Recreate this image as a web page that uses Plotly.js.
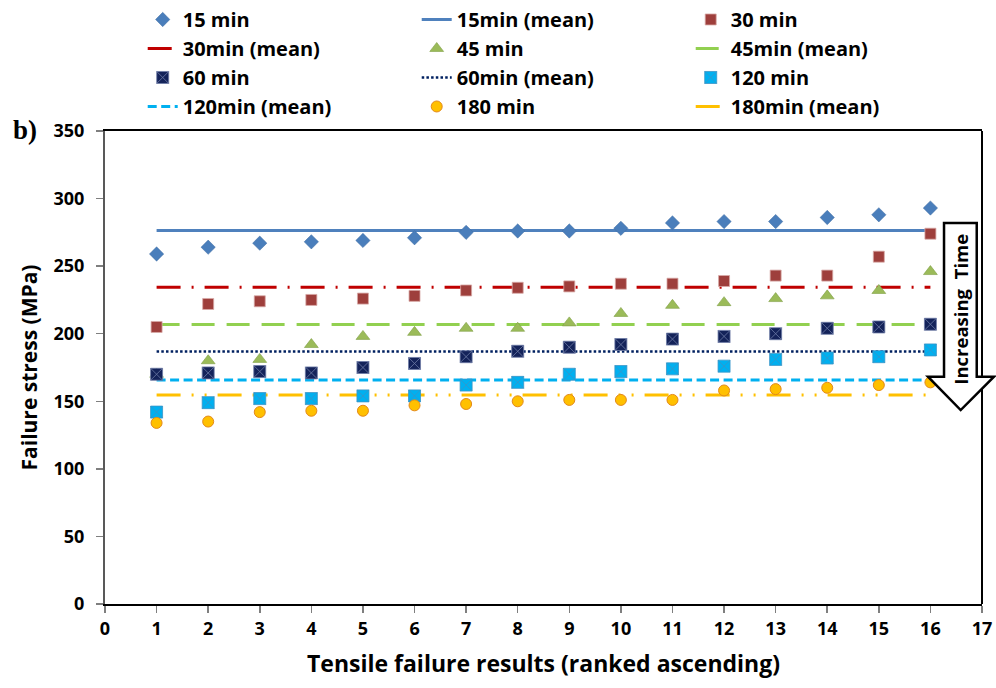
<!DOCTYPE html>
<html>
<head>
<meta charset="utf-8">
<script src="https://cdn.plot.ly/plotly-3.0.1.min.js"></script>
<style>html,body{margin:0;padding:0;background:#fff;}#chart{width:996px;height:688px;}</style>
</head>
<body>
<div id="chart"></div>
<script>
// Rank positions (x axis)
const ranks = [1,2,3,4,5,6,7,8,9,10,11,12,13,14,15,16];
// Failure stress (MPa) for each soak time, ranked ascending
const stress15  = [259,264,267,268,269,271,275,276,276,278,282,283,283,286,288,293];
const stress30  = [205,222,224,225,226,228,232,234,235,237,237,239,243,243,257,274];
const stress45  = [170,180,181,192,198,201,204,204,208,215,221,223,226,228,232,246];
const stress60  = [170,171,172,171,175,178,183,187,190,192,196,198,200,204,205,207];
const stress120 = [142,149,152,152,154,154,162,164,170,172,174,176,181,182,183,188];
const stress180 = [134,135,142,143,143,147,148,150,151,151,151,158,159,160,162,164];
// Mean lines (MPa)
const means = [276.3, 234.4, 206.8, 186.8, 165.8, 154.7];
const seriesNames = ['15 min','30 min','45 min','60 min','120 min','180 min'];
const meanNames = ['15min (mean)','30min (mean)','45min (mean)','60min (mean)','120min (mean)','180min (mean)'];
const xTickVals = [0,1,2,3,4,5,6,7,8,9,10,11,12,13,14,15,16,17];
const yTickVals = [0,50,100,150,200,250,300,350];
const xTitle = 'Tensile failure results (ranked ascending)';
const yTitle = 'Failure stress (MPa)';
const panelLabel = 'b)';
const arrowLabel = 'Increasing  Time';

const FONT = 'Open Sans, Noto Sans, sans-serif';
const allStress = [stress15, stress30, stress45, stress60, stress120, stress180];
const markerStyles = [
  {symbol:'diamond', size:11, color:'#4A7EBB', line:{color:'#3C6AA0', width:0.5}},
  {symbol:'square', size:11, color:'#9E3F3C', line:{color:'#D8A9A7', width:0.8}},
  {symbol:'triangle-up', size:12, color:'#9BBB59', line:{color:'#7E9E43', width:0.6}},
  {symbol:'square-x', size:12, color:'#14235A', line:{color:'#6D7BA6', width:0.8}},
  {symbol:'square-x', size:12, color:'#00B0F0', line:{color:'#3A94C6', width:0.8}},
  {symbol:'circle', size:11, color:'#FFC000', line:{color:'#E3891A', width:1}}
];
const lineStyles = [
  {color:'#4F81BD', width:3, dash:'solid'},
  {color:'#C00000', width:3, dash:'24px,11px,2px,11px'},
  {color:'#92D050', width:3, dash:'23px,12px'},
  {color:'#002060', width:2.5, dash:'2.5px,2.2px'},
  {color:'#00B0F0', width:3, dash:'9px,4.5px'},
  {color:'#FFC000', width:3, dash:'24px,11px,2px,11px,2px,11px'}
];

const traces = [];
// mean lines first (drawn beneath markers)
means.forEach((m, i) => {
  traces.push({
    type:'scatter', mode:'lines', name: meanNames[i],
    x:[ranks[0], ranks[ranks.length-1]], y:[m, m],
    line: lineStyles[i], legendrank: 2*i + 2, hoverinfo:'skip'
  });
});
allStress.forEach((arr, i) => {
  traces.push({
    type:'scatter', mode:'markers', name: seriesNames[i],
    x: ranks, y: arr, marker: markerStyles[i], legendrank: 2*i + 1, cliponaxis:false
  });
});

const layout = {
  width:996, height:688,
  margin:{l:105, r:14, t:131, b:84, pad:0, autoexpand:false},
  paper_bgcolor:'#ffffff', plot_bgcolor:'#ffffff',
  font:{family:FONT, color:'#000000'},
  showlegend:true,
  legend:{
    orientation:'h', x:0.043, xanchor:'left', y:1.277, yanchor:'top',
    entrywidth:229, traceorder:'normal',
    font:{family:FONT, size:20, weight:'bold', color:'#000000'},
    bgcolor:'rgba(0,0,0,0)'
  },
  xaxis:{
    range:[0,17], tickmode:'array', tickvals:xTickVals, ticks:'outside', ticklen:7, tickwidth:1.5, tickcolor:'#7F7F7F',
    showgrid:false, zeroline:false, showline:true, linecolor:'#000000', linewidth:2, mirror:true,
    tickfont:{family:FONT, size:18, weight:'bold', color:'#000000'},
    title:{text:xTitle, font:{family:FONT, size:23, weight:'bold', color:'#000000'}, standoff:17}
  },
  yaxis:{
    range:[0,350], tickmode:'array', tickvals:yTickVals, ticks:'outside', ticklen:7, tickwidth:1.5, tickcolor:'#7F7F7F',
    showgrid:false, zeroline:false, showline:true, linecolor:'#595959', linewidth:2,
    tickfont:{family:FONT, size:18, weight:'bold', color:'#000000'}, ticklabelstandoff:8,
    title:{text:yTitle, font:{family:FONT, size:21, weight:'bold', color:'#000000'}, standoff:10}
  },
  shapes:[
    {type:'line', xref:'paper', yref:'paper', x0:1, x1:1, y0:0, y1:1, line:{color:'#000000', width:2}, layer:'above'},
    {type:'path', xref:'paper', yref:'paper', layer:'above',
     path:'M 0.9567 0.8055 L 0.9940 0.8055 L 0.9940 0.4805 L 1.0137 0.4805 L 0.9757 0.4101 L 0.9384 0.4805 L 0.9567 0.4805 Z',
     line:{color:'#000000', width:2.5}, fillcolor:'#ffffff'}
  ],
  annotations:[
    {text:panelLabel, xref:'paper', yref:'paper', x:-0.0912, y:1.002, xanchor:'center', yanchor:'middle', showarrow:false,
     font:{family:'Liberation Serif, serif', size:27, weight:'bold', color:'#000000'}},
    {text:arrowLabel, xref:'paper', yref:'paper', x:0.9757, y:0.6237, xanchor:'center', yanchor:'middle', showarrow:false, textangle:-90,
     font:{family:FONT, size:18.5, weight:'bold', color:'#000000'}}
  ]
};

Plotly.newPlot('chart', traces, layout, {staticPlot:true, displayModeBar:false});
</script>
</body>
</html>
